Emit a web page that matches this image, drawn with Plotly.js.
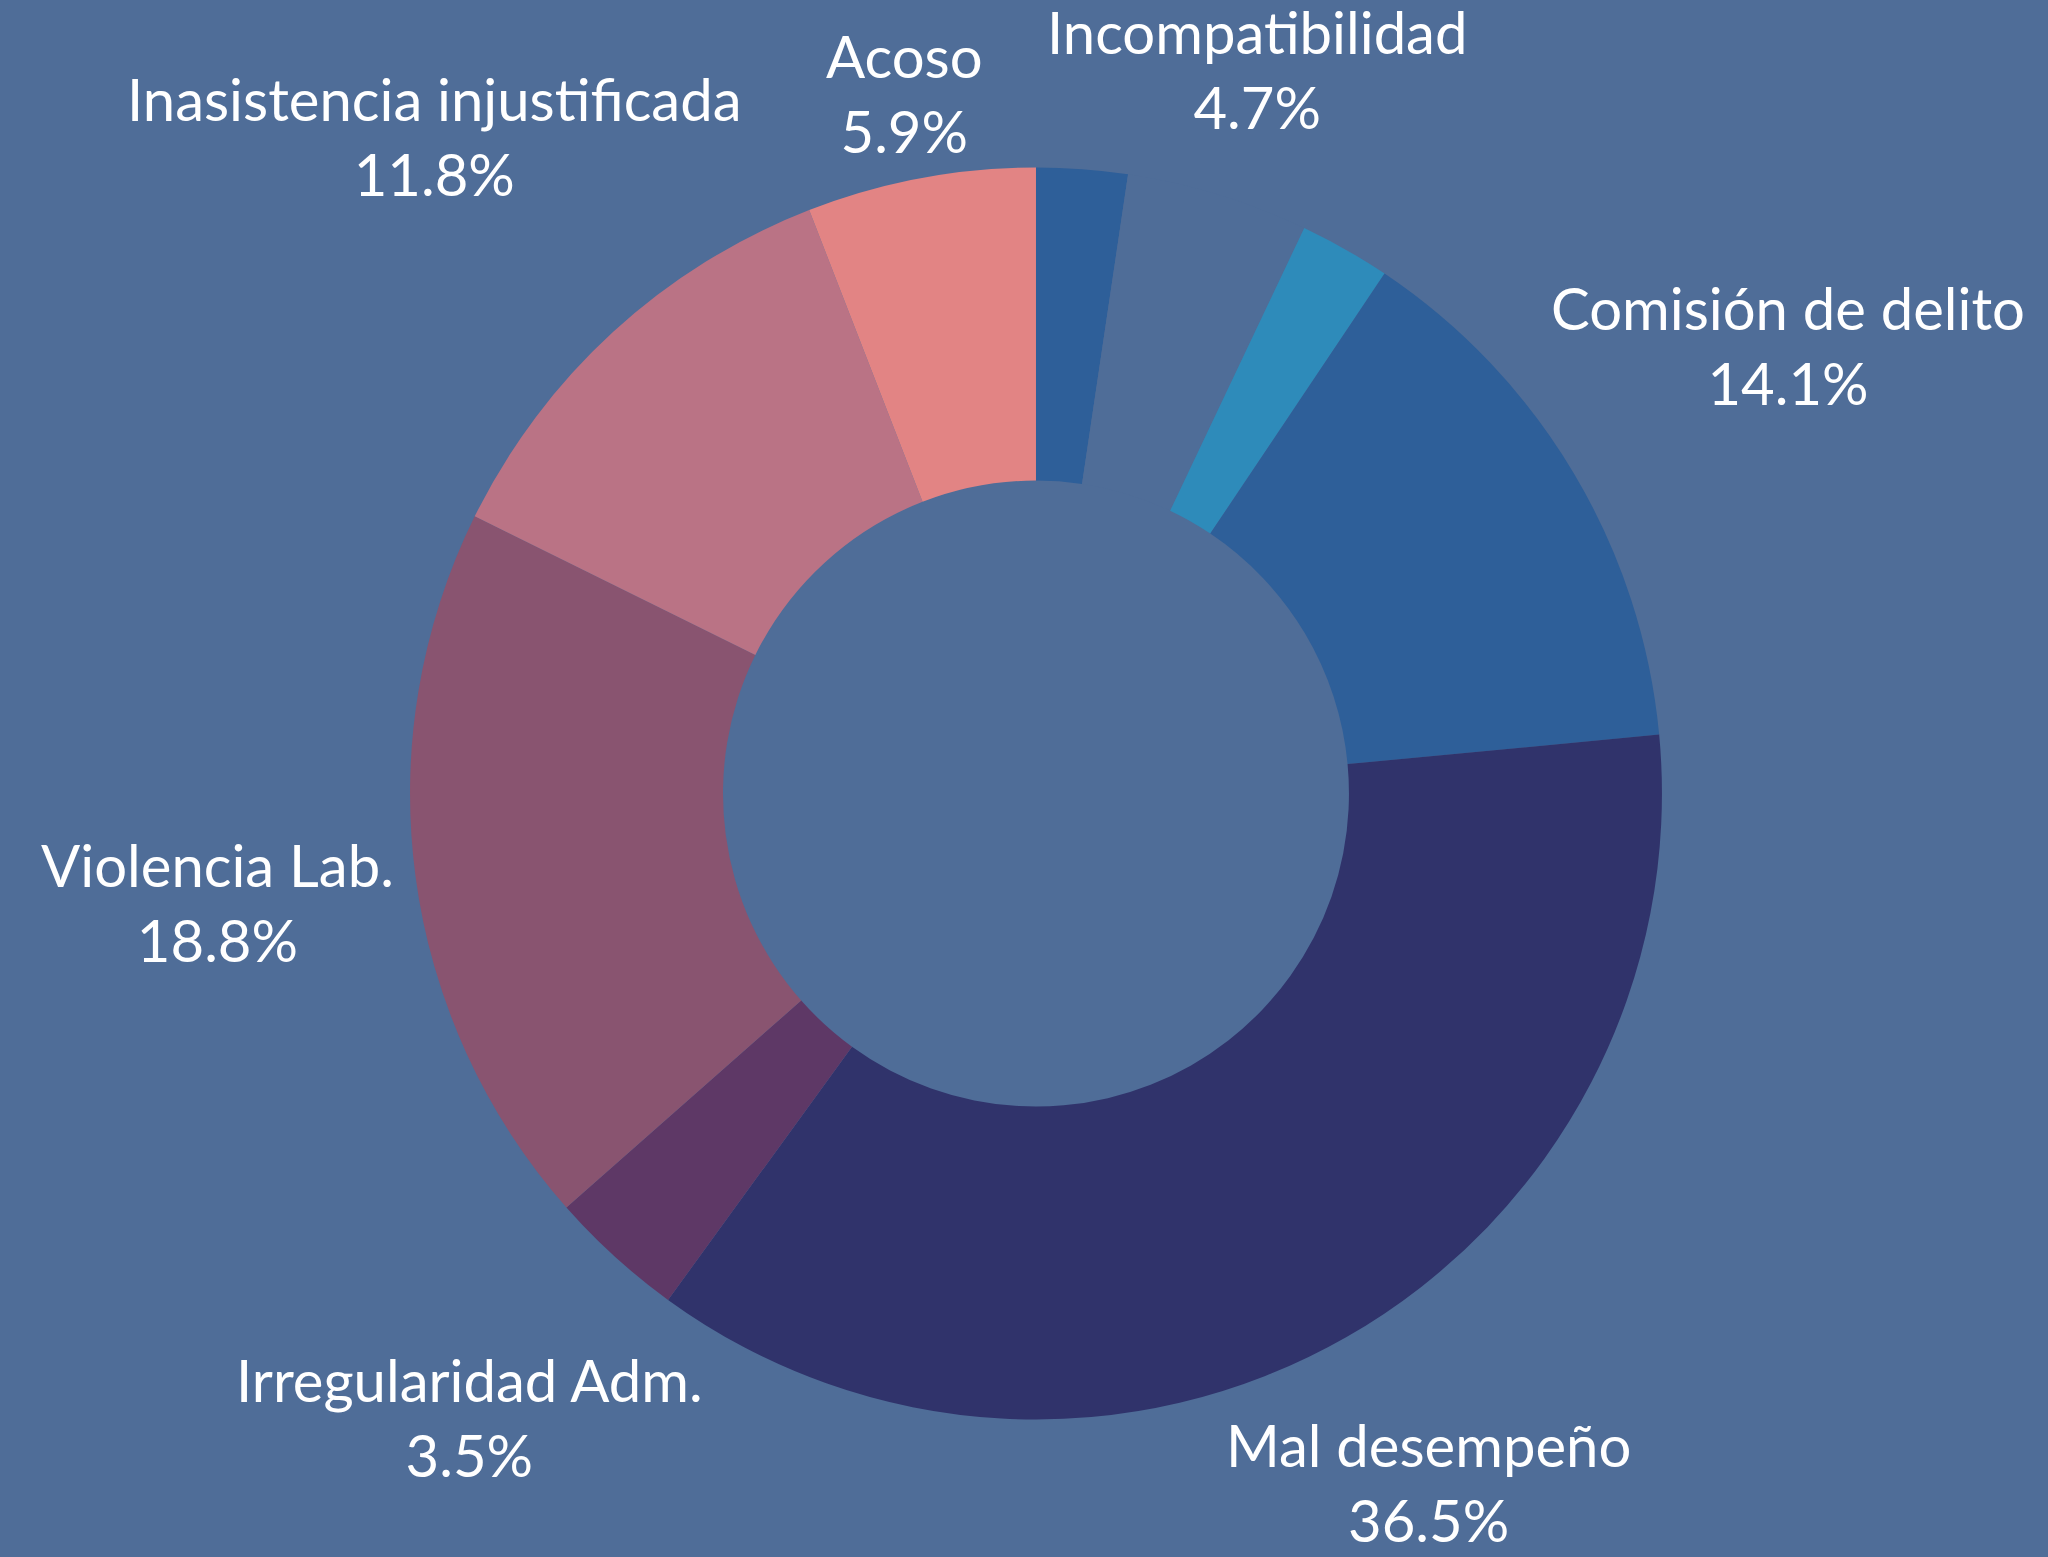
<!DOCTYPE html>
<html>
<head>
<meta charset="utf-8">
<script src="https://cdn.plot.ly/plotly-3.0.1.min.js"></script>
<style>
  body { margin: 0; background: #4F6D98; }
  #chart { width: 2048px; height: 1557px; }
</style>
</head>
<body>
<div id="chart"></div>
<script>
// slices clockwise from 12 o'clock; the two thin blue ones carry no label
var labels = ['Sin etiqueta 1', 'Incompatibilidad', 'Sin etiqueta 2', 'Comisión de delito',
    'Mal desempeño', 'Irregularidad Adm.', 'Violencia Lab.', 'Inasistencia injustificada', 'Acoso'];
var values = [2.35, 4.7, 2.35, 14.1, 36.5, 3.5, 18.8, 11.8, 5.9];
var showLabel = [false, true, false, true, true, true, true, true, true];
var colors = ['#2E5F99', '#4F6D98', '#2E8BBA', '#2E5F99', '#30336B', '#5E3866', '#895470', '#BA7385', '#E28484'];

var W = 2048, H = 1557;
var bg = '#4F6D98';
var fontFamily = 'Lato, "Open Sans", sans-serif';
var fontSize = 58;
var domain = { x: [0.2002, 0.8115], y: [0.0883, 0.8924] };

// pie geometry in pixels, same rule plotly uses (radius = half the smaller side)
var cx = (domain.x[0] + domain.x[1]) / 2 * W;
var cy = (1 - (domain.y[0] + domain.y[1]) / 2) * H;
var R = Math.min((domain.x[1] - domain.x[0]) * W, (domain.y[1] - domain.y[0]) * H) / 2;

var ctx = document.createElement('canvas').getContext('2d');
ctx.font = fontSize + 'px Lato';

var total = values.reduce(function(a, b) { return a + b; }, 0);
var annotations = [];
var cum = 0;
for (var i = 0; i < values.length; i++) {
    var mid = (cum + values[i] / 2) / total * 2 * Math.PI;
    cum += values[i];
    if (!showLabel[i]) continue;
    var pct = (values[i] / total * 100).toFixed(1) + '%';
    var ux = Math.sin(mid), uy = -Math.cos(mid);
    var halfW = Math.max(ctx.measureText(labels[i]).width, ctx.measureText(pct).width) / 2;
    var halfH = 55;
    // push the label box out along the slice's middle until it clears the ring
    var dist = R + 18 + Math.abs(ux) * halfW + Math.abs(uy) * halfH;
    var px = cx + dist * ux;
    var py = cy + dist * uy;
    annotations.push({
        x: px / W, y: 1 - py / H, xref: 'paper', yref: 'paper',
        xanchor: 'center', yanchor: 'middle', showarrow: false,
        text: labels[i] + '<br>' + pct,
        font: { family: fontFamily, size: fontSize, color: '#FFFFFF' }
    });
}

var trace = {
    type: 'pie',
    labels: labels,
    values: values,
    hole: 0.5,
    sort: false,
    direction: 'clockwise',
    rotation: 0,
    textinfo: 'none',
    hoverinfo: 'none',
    showlegend: false,
    domain: domain,
    marker: { colors: colors, line: { width: 0 } }
};

var layout = {
    width: W,
    height: H,
    margin: { l: 0, r: 0, t: 0, b: 0 },
    paper_bgcolor: bg,
    plot_bgcolor: bg,
    showlegend: false,
    annotations: annotations
};

Plotly.newPlot('chart', [trace], layout, { displayModeBar: false, staticPlot: true });
</script>
</body>
</html>
